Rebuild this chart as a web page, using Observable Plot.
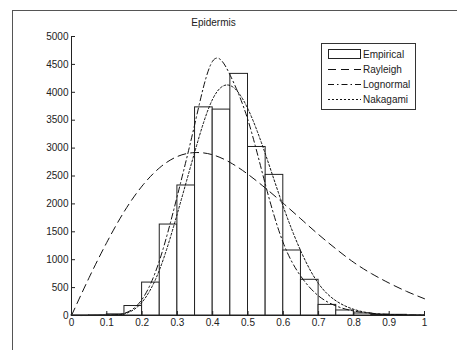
<!DOCTYPE html>
<html><head><meta charset="utf-8">
<script src="https://cdn.jsdelivr.net/npm/d3@7"></script>
<script src="https://cdn.jsdelivr.net/npm/@observablehq/plot@0.6"></script>
<style>
body{margin:0;background:#fff;font-family:"Liberation Sans",Arial,sans-serif;}
#wrap{position:relative;width:457px;height:350px;overflow:hidden;}
#frame{position:absolute;left:12px;top:10px;width:460px;height:360px;border-left:1px solid #555;border-top:1px solid #555;pointer-events:none;}
#title{position:absolute;left:0;width:427px;top:17px;text-align:center;font-size:10px;color:#222;}
#legend{position:absolute;left:321px;top:43px;width:93px;height:65px;border:1px solid #333;background:#fff;font-size:10px;color:#222;}
#legend svg{position:absolute;left:0;top:0;}
</style></head><body>
<div id="wrap"><div id="chart"></div><div id="frame"></div><div id="title">Epidermis</div><div id="legend"></div></div>
<script>
const binLow = [0,0.05,0.1,0.15,0.2,0.25,0.3,0.35,0.4,0.45,0.5,0.55,0.6,0.65,0.7,0.75,0.8,0.85,0.9,0.95];
const binWidth = 0.05;
const empirical = [3,5,20,170,590,1630,2330,3730,3690,4330,3020,2520,1165,640,190,90,36,15,12,5];

const curveX = [0,0.05,0.1,0.15,0.2,0.25,0.3,0.35,0.4,0.45,0.5,0.55,0.6,0.65,0.7,0.75,0.8,0.85,0.9,0.95,1];
const rayleigh  = [0,680,1310,1870,2320,2650,2850,2920,2880,2740,2530,2280,2010,1730,1450,1190,950,750,580,430,300];
const lognormal = [0,0,5,40,290,1000,2150,3450,4560,4300,3500,2330,1300,700,350,170,80,40,20,10,5];
const nakagami  = [0,0,2,30,240,830,1830,2950,3880,4120,3700,2880,1950,1150,570,260,110,40,12,4,1];

const xTicks = [0,0.1,0.2,0.3,0.4,0.5,0.6,0.7,0.8,0.9,1];
const xTickLabels = ["0","0.1","0.2","0.3","0.4","0.5","0.6","0.7","0.8","0.9","1"];
const yTicks = [0,500,1000,1500,2000,2500,3000,3500,4000,4500,5000];

const bars = binLow.map((b,i)=>({x1:b,x2:b+binWidth,y:empirical[i]}));
const series = [
  {name:"Rayleigh", values:rayleigh, dash:"8,5"},
  {name:"Lognormal", values:lognormal, dash:"6,3,1.5,3"},
  {name:"Nakagami", values:nakagami, dash:"2,2"}
];
const lines = series.flatMap(s=>curveX.map((x,i)=>({x,y:s.values[i],name:s.name})));

const plot = Plot.plot({
  width:457, height:350,
  marginLeft:71, marginRight:33, marginTop:36, marginBottom:35,
  style:{fontFamily:"'Liberation Sans',Arial,sans-serif",fontSize:"10px",color:"#222",background:"transparent"},
  x:{domain:[0,1]},
  y:{domain:[0,5000]},
  marks:[
    Plot.rectY(bars,{x1:"x1",x2:"x2",y:"y",fill:"white",stroke:"#222",strokeWidth:1}),
    ...series.map(s=>Plot.line(lines.filter(d=>d.name===s.name),{x:"x",y:"y",curve:"natural",stroke:"#111",strokeWidth:1,strokeDasharray:s.dash})),
    Plot.axisX({ticks:xTicks,tickFormat:(d,i)=>xTickLabels[i],tickSize:-4,tickPadding:7,label:null,stroke:"#222",fill:"#222"}),
    Plot.axisY({ticks:yTicks,tickFormat:d=>String(d),tickSize:-4,tickPadding:7,label:null,stroke:"#222",fill:"#222"}),
    Plot.ruleY([0],{stroke:"#222"}),
    Plot.ruleX([0],{stroke:"#222"})
  ]
});
document.getElementById("chart").appendChild(plot);

// legend
const legendItems = [
  {name:"Empirical", type:"rect"},
  ...series.map(s=>({name:s.name,type:"line",dash:s.dash}))
];
const ns="http://www.w3.org/2000/svg";
const lg=document.getElementById("legend");
const svg=document.createElementNS(ns,"svg");
svg.setAttribute("width","93");svg.setAttribute("height","65");
legendItems.forEach((it,i)=>{
  const cy=10.5+i*15;
  if(it.type==="rect"){
    const r=document.createElementNS(ns,"rect");
    r.setAttribute("x","6.5");r.setAttribute("y",cy-5);r.setAttribute("width","32");r.setAttribute("height","9");
    r.setAttribute("fill","white");r.setAttribute("stroke","#222");
    svg.appendChild(r);
  } else {
    const l=document.createElementNS(ns,"line");
    l.setAttribute("x1","6");l.setAttribute("x2","39");l.setAttribute("y1",cy);l.setAttribute("y2",cy);
    l.setAttribute("stroke","#111");l.setAttribute("stroke-dasharray",it.dash);
    svg.appendChild(l);
  }
  const t=document.createElementNS(ns,"text");
  t.setAttribute("x","41");t.setAttribute("y",cy+3.5);t.setAttribute("font-size","10");t.setAttribute("fill","#222");
  t.setAttribute("font-family","'Liberation Sans',Arial,sans-serif");
  t.textContent=it.name;
  svg.appendChild(t);
});
lg.appendChild(svg);
</script>
</body></html>
